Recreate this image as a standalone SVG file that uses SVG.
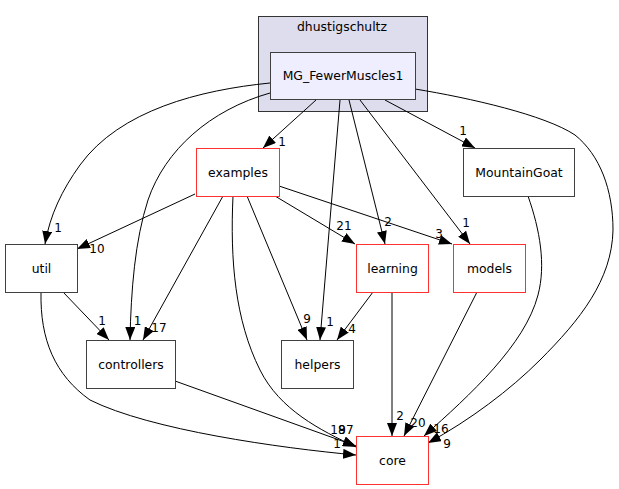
<svg xmlns="http://www.w3.org/2000/svg" width="619" height="489" viewBox="0 0 619 489">
<style>
text{font-family:"DejaVu Sans","Liberation Sans",sans-serif;fill:#000}
.n{font-size:12.4px;text-anchor:middle}
.l{font-size:12px;text-anchor:middle}
.b{fill:#fff;stroke:#404040;stroke-width:1}
.r{fill:#fff;stroke:#ff3030;stroke-width:1}
.e{fill:none;stroke:#000;stroke-width:1;marker-end:url(#a)}
</style>
<defs>
<marker id="a" viewBox="0 0 13 10" refX="13" refY="5" markerWidth="13" markerHeight="10" markerUnits="userSpaceOnUse" orient="auto">
<path d="M0,0 L13,5 L0,10 z" fill="#000"/>
</marker>
</defs>
<rect width="619" height="489" fill="#fff"/>
<g id="cluster_dhustigschultz">
<rect x="258.5" y="16.5" width="169" height="95" fill="#ddddee" stroke="#333"/>
<text class="n" x="342" y="31">dhustigschultz</text>
</g>
<g id="edges">
<path class="e" d="M270,83 C200,90 120,110 80,165 C62,190 50,215 45,244"/>
<path class="e" d="M270,93 C210,110 165,150 148,200 C135,240 131,290 130,340"/>
<path class="e" d="M316,100 L263,148"/>
<path class="e" d="M340,100 L320,340"/>
<path class="e" d="M349,100 L385,244"/>
<path class="e" d="M360,100 L470,244"/>
<path class="e" d="M385,100 L475,148"/>
<path class="e" d="M415,89 C470,98 545,115 575,135 C600,155 613,190 613,230 C612,280 580,320 540,360 C510,390 470,420 428,443"/>
<path class="e" d="M528,196 C540,230 546,265 538,295 C525,345 470,395 424,436"/>
<path class="e" d="M477,292 L404,436"/>
<path class="e" d="M392,292 L392,436"/>
<path class="e" d="M373,292 L337,340"/>
<path class="e" d="M195,194 L77,249"/>
<path class="e" d="M223,196 L143,340"/>
<path class="e" d="M247,196 L307,340"/>
<path class="e" d="M279,186 L452,244"/>
<path class="e" d="M275,196 L355,244"/>
<path class="e" d="M233,196 C230,260 235,320 260,370 C280,410 320,430 356,447"/>
<path class="e" d="M175,381 L356,446"/>
<path class="e" d="M41,292 C40,340 55,375 90,400 C150,430 280,448 356,455"/>
<path class="e" d="M63,292 L109,340"/>
<text class="l" x="282" y="146">1</text>
<text class="l" x="58" y="232">1</text>
<text class="l" x="137.5" y="325">1</text>
<text class="l" x="102" y="325">1</text>
<text class="l" x="159" y="332">17</text>
<text class="l" x="97" y="253">10</text>
<text class="l" x="307" y="323">9</text>
<text class="l" x="330" y="326">1</text>
<text class="l" x="352" y="333">4</text>
<text class="l" x="344" y="230">21</text>
<text class="l" x="388" y="226">2</text>
<text class="l" x="439" y="238">3</text>
<text class="l" x="466" y="227">1</text>
<text class="l" x="463" y="135">1</text>
<text class="l" x="400" y="420">2</text>
<text class="l" x="418" y="427">20</text>
<text class="l" x="441" y="433">16</text>
<text class="l" x="447" y="448">9</text>
<text class="l" x="338" y="434">18</text>
<text class="l" x="346" y="434">97</text>
<text class="l" x="337" y="448">1</text>
</g>
<g id="MG_FewerMuscles1">
<rect x="270.5" y="52.5" width="145" height="47" fill="#eeeeff" stroke="#404040"/>
<text class="n" x="343" y="80">MG_FewerMuscles1</text>
</g>
<g id="examples">
<rect class="r" x="196.5" y="148.5" width="83" height="48"/>
<text class="n" x="238" y="176.5">examples</text>
</g>
<g id="MountainGoat">
<rect class="b" x="463.5" y="148.5" width="111" height="48"/>
<text class="n" x="519" y="176.5">MountainGoat</text>
</g>
<g id="util">
<rect class="b" x="5.5" y="244.5" width="72" height="48"/>
<text class="n" x="41.5" y="272.5">util</text>
</g>
<g id="learning">
<rect class="r" x="356.5" y="244.5" width="72" height="48"/>
<text class="n" x="392.5" y="272.5">learning</text>
</g>
<g id="models">
<rect class="r" x="453.5" y="244.5" width="72" height="48"/>
<text class="n" x="489.5" y="272.5">models</text>
</g>
<g id="controllers">
<rect class="b" x="86.5" y="340.5" width="89" height="48"/>
<text class="n" x="131" y="368.5">controllers</text>
</g>
<g id="helpers">
<rect class="b" x="281.5" y="340.5" width="72" height="48"/>
<text class="n" x="317.5" y="368.5">helpers</text>
</g>
<g id="core">
<rect class="r" x="356.5" y="436.5" width="72" height="48"/>
<text class="n" x="392.5" y="464.5">core</text>
</g>
</svg>
